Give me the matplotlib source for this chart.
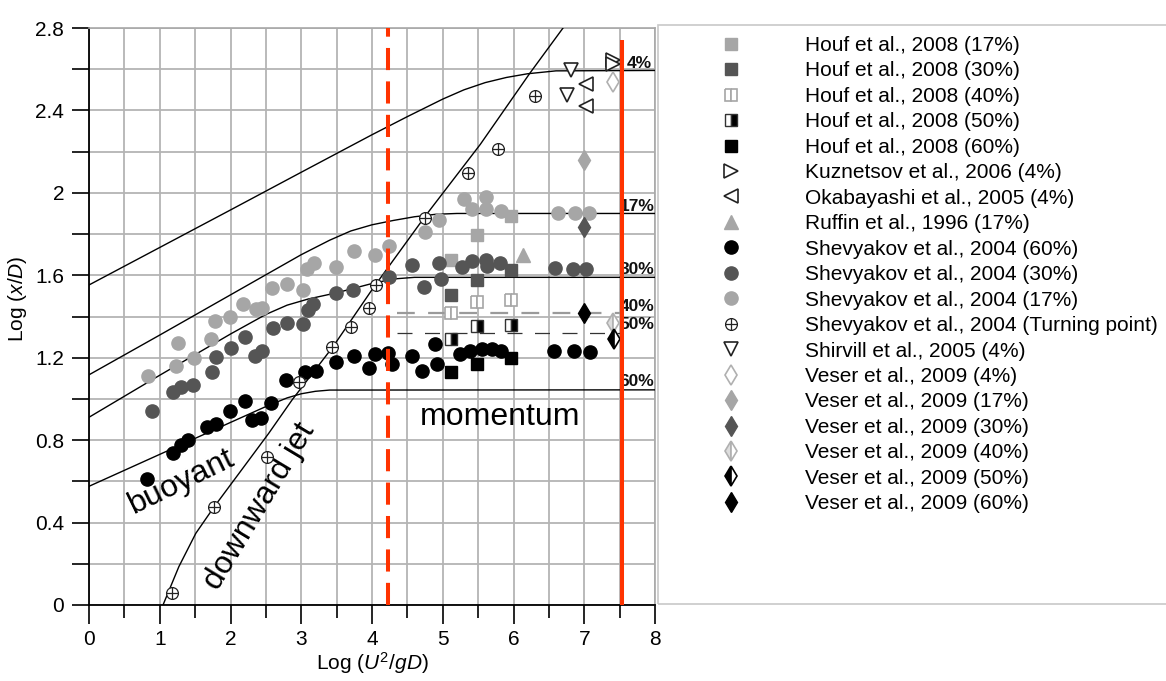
import matplotlib
matplotlib.use('Agg')
import matplotlib.pyplot as plt
from matplotlib.path import Path
from matplotlib.patches import Rectangle
import numpy as np

plt.rcParams['font.family'] = ['Liberation Sans', 'DejaVu Sans']
plt.rcParams['mathtext.fontset'] = 'custom'
plt.rcParams['mathtext.rm'] = 'Liberation Sans'
plt.rcParams['mathtext.it'] = 'Liberation Sans:italic'

# ---------------- data ----------------
houf_x = [5.12, 5.48, 5.97]
houf17_y = [1.675, 1.795, 1.887]
houf30_y = [1.505, 1.575, 1.626]
houf40_y = [1.415, 1.468, 1.478]
houf50_y = [1.29, 1.355, 1.36]
houf60_y = [1.133, 1.17, 1.20]

kuz_x = [7.40, 7.40]
kuz_y = [2.645, 2.625]
oka_x = [7.03, 7.03]
oka_y = [2.53, 2.42]
ruffin_x = [6.13]
ruffin_y = [1.70]

shev60_x = [0.82, 1.19, 1.30, 1.40, 1.67, 1.79, 1.99, 2.21, 2.31, 2.43, 2.57, 2.78, 3.05, 3.21,
            3.49, 3.74, 3.96, 4.04, 4.23, 4.28, 4.56, 4.70, 4.89, 4.92, 5.25, 5.39, 5.55, 5.69,
            5.82, 6.57, 6.85, 7.08]
shev60_y = [0.61, 0.736, 0.777, 0.80, 0.863, 0.879, 0.94, 0.99, 0.90, 0.906, 0.98, 1.09, 1.13, 1.137,
            1.18, 1.21, 1.15, 1.22, 1.225, 1.17, 1.21, 1.137, 1.266, 1.17, 1.22, 1.235, 1.24, 1.24,
            1.235, 1.235, 1.235, 1.227]

shev30_x = [0.89, 1.19, 1.30, 1.47, 1.74, 1.80, 2.00, 2.20, 2.35, 2.44, 2.60, 2.80, 3.02, 3.10,
            3.16, 3.49, 3.73, 4.24, 4.56, 4.73, 4.95, 4.98, 5.27, 5.41, 5.61, 5.62, 5.81, 6.59,
            6.84, 7.03]
shev30_y = [0.94, 1.035, 1.057, 1.07, 1.13, 1.205, 1.246, 1.30, 1.21, 1.235, 1.343, 1.37, 1.364, 1.43,
            1.46, 1.516, 1.53, 1.59, 1.65, 1.545, 1.66, 1.58, 1.64, 1.67, 1.675, 1.645, 1.66, 1.635,
            1.63, 1.63]

shev17_x = [0.84, 1.23, 1.26, 1.48, 1.73, 1.78, 1.99, 2.18, 2.36, 2.45, 2.59, 2.80, 3.02, 3.08,
            3.18, 3.49, 3.74, 4.04, 4.24, 4.75, 4.95, 5.30, 5.41, 5.61, 5.61, 5.83, 6.63, 6.87, 7.07]
shev17_y = [1.11, 1.16, 1.27, 1.20, 1.29, 1.38, 1.40, 1.46, 1.435, 1.44, 1.54, 1.56, 1.53, 1.63,
            1.66, 1.64, 1.72, 1.70, 1.74, 1.81, 1.87, 1.97, 1.92, 1.98, 1.92, 1.91, 1.90, 1.90, 1.90]

turn_x = [1.18, 1.77, 2.52, 2.97, 3.43, 3.70, 3.96, 4.06, 4.75, 5.35, 5.78, 6.30]
turn_y = [0.057, 0.477, 0.717, 1.08, 1.25, 1.35, 1.44, 1.553, 1.88, 2.095, 2.215, 2.47]

shirvill_x = [6.81, 6.75]
shirvill_y = [2.597, 2.476]

veser4_x, veser4_y = [7.41], [2.54]
veser17_x, veser17_y = [7.00], [2.16]
veser30_x, veser30_y = [7.00], [1.836]
veser40_x, veser40_y = [7.41], [1.367]
veser50_x, veser50_y = [7.42], [1.29]
veser60_x, veser60_y = [7.00], [1.419]

# model curves
c4_x = [0, 1, 2, 3, 4, 4.5, 5.0, 5.3, 5.6, 5.9, 6.2, 6.6, 8]
c4_y = [1.553, 1.735, 1.917, 2.10, 2.282, 2.37, 2.455, 2.50, 2.535, 2.56, 2.578, 2.592, 2.594]
c17_x = [0, 1, 2, 3.0, 3.4, 3.7, 4.0, 4.3, 4.6, 4.9, 5.2, 8]
c17_y = [1.117, 1.31, 1.505, 1.70, 1.77, 1.815, 1.845, 1.866, 1.884, 1.896, 1.90, 1.90]
c30_x = [0, 1, 2, 2.5, 2.8, 3.1, 3.5, 4.0, 4.3, 4.6, 8]
c30_y = [0.911, 1.115, 1.315, 1.41, 1.455, 1.485, 1.515, 1.56, 1.582, 1.59, 1.59]
c60_x = [0, 1, 2, 2.5, 2.8, 3.0, 3.2, 3.4, 8]
c60_y = [0.576, 0.731, 0.886, 0.963, 1.005, 1.025, 1.037, 1.043, 1.044]
jet_x = [1.046, 1.27, 1.51, 1.77, 2.19, 2.54, 2.87, 3.45, 4.02, 4.77, 5.53, 6.23, 6.70]
jet_y = [0.0, 0.186, 0.348, 0.477, 0.671, 0.833, 0.995, 1.254, 1.54, 1.895, 2.235, 2.58, 2.80]

dash40_x, dash40_y = [4.35, 7.50], [1.416, 1.416]
dash50_x, dash50_y = [4.35, 7.50], [1.319, 1.319]

curve_labels = ['4%', '17%', '30%', '40%', '50%', '60%']
curve_label_y = [2.63, 1.934, 1.63, 1.45, 1.36, 1.084]

red_dash_x = 4.22
red_solid_x = 7.54
red_solid_top = 2.74

# ---------------- figure ----------------
W, H = 1166, 681
fig = plt.figure(figsize=(W / 100, H / 100), dpi=100)
ax = fig.add_axes([89 / W, 1 - 605 / H, (655 - 89) / W, (605 - 28) / H])
ax.set_xlim(0, 8)
ax.set_ylim(0, 2.8)

ax.set_xticks(np.arange(0, 9, 1))
ax.set_xticks(np.arange(0.5, 8, 1), minor=True)
ax.set_yticks(np.arange(0, 2.81, 0.4))
ax.set_yticks(np.arange(0.2, 2.8, 0.4), minor=True)
ax.set_yticklabels(['0', '0.4', '0.8', '1.2', '1.6', '2', '2.4', '2.8'])
ax.tick_params(axis='both', which='major', labelsize=15, direction='out', width=1.2, color='black')
ax.tick_params(axis='x', which='major', length=14, pad=4)
ax.tick_params(axis='x', which='minor', length=9, width=1.2)
ax.tick_params(axis='y', which='major', length=12, pad=6)
ax.tick_params(axis='y', which='minor', length=12, width=1.2)
ax.grid(True, which='both', color='#b4b4b4', lw=1.3, zorder=0)
ax.set_axisbelow(True)
for s in ['left', 'bottom']:
    ax.spines[s].set_color('black')
    ax.spines[s].set_linewidth(1.3)
for s in ['top', 'right']:
    ax.spines[s].set_color('#a8a8a8')
    ax.spines[s].set_linewidth(1.2)

ax.set_xlabel(r'Log ($U^{2}/gD$)', fontsize=15)
ax.set_ylabel(r'Log ($x/D$)', fontsize=15)
ax.xaxis.set_label_coords(0.5, -0.078)
ax.yaxis.set_label_coords(-0.106, 0.53)

# curves
for cx, cy in [(c4_x, c4_y), (c17_x, c17_y), (c30_x, c30_y), (c60_x, c60_y), (jet_x, jet_y)]:
    ax.plot(cx, cy, color='black', lw=1.0, zorder=3)
ax.plot(dash40_x, dash40_y, color='#9a9a9a', lw=1.6, ls=(0, (8, 6)), zorder=3)
ax.plot(dash50_x, dash50_y, color='#333333', lw=0.9, ls=(0, (12, 10)), zorder=3)

for lab, ly in zip(curve_labels, curve_label_y):
    ax.text(7.50 if lab != '4%' else 7.60, ly, lab, fontsize=12.5, fontweight='bold',
            ha='left', va='center', zorder=4, color='#111111')

# red lines
ax.plot([red_dash_x, red_dash_x], [0, 2.8], color='#ff3300', lw=2.9, ls=(0, (5.5, 2.8)), zorder=6,
        solid_capstyle='butt', dash_capstyle='butt')
ax.plot([red_solid_x, red_solid_x], [0, red_solid_top], color='#ff3300', lw=2.9, zorder=6,
        solid_capstyle='butt')

# markers
lg = '#a6a6a6'
dg = '#555555'
circ = Path.unit_circle()
oplus = Path(np.concatenate([circ.vertices, [[-1, 0], [1, 0], [0, -1], [0, 1]]]),
             np.concatenate([circ.codes, [Path.MOVETO, Path.LINETO, Path.MOVETO, Path.LINETO]]))

series = [
    (houf_x, houf17_y, 'Houf et al., 2008 (17%)', dict(marker='s', ms=8.5, mfc=lg, mec=lg)),
    (houf_x, houf30_y, 'Houf et al., 2008 (30%)', dict(marker='s', ms=8.5, mfc=dg, mec=dg)),
    (houf_x, houf40_y, 'Houf et al., 2008 (40%)', dict(marker='s', ms=8.5, mfc='white', mec=lg,
                                                       fillstyle='left', markerfacecoloralt='white', mew=1.2)),
    (houf_x, houf50_y, 'Houf et al., 2008 (50%)', dict(marker='s', ms=8.5, mfc='white', mec='#333333',
                                                       fillstyle='left', markerfacecoloralt='black', mew=1.0)),
    (houf_x, houf60_y, 'Houf et al., 2008 (60%)', dict(marker='s', ms=8.5, mfc='black', mec='black')),
    (kuz_x, kuz_y, 'Kuznetsov et al., 2006 (4%)', dict(marker='>', ms=10, mfc='white', mec='#222222', mew=1.2)),
    (oka_x, oka_y, 'Okabayashi et al., 2005 (4%)', dict(marker='<', ms=10, mfc='white', mec='#222222', mew=1.2)),
    (ruffin_x, ruffin_y, 'Ruffin et al., 1996 (17%)', dict(marker='^', ms=10, mfc=lg, mec=lg)),
    (shev60_x, shev60_y, 'Shevyakov et al., 2004 (60%)', dict(marker='o', ms=9.5, mfc='black', mec='black')),
    (shev30_x, shev30_y, 'Shevyakov et al., 2004 (30%)', dict(marker='o', ms=9.5, mfc=dg, mec=dg)),
    (shev17_x, shev17_y, 'Shevyakov et al., 2004 (17%)', dict(marker='o', ms=9.5, mfc=lg, mec=lg)),
    (turn_x, turn_y, 'Shevyakov et al., 2004 (Turning point)', dict(marker=oplus, ms=8.5, mfc='white',
                                                                     mec='#222222', mew=0.9)),
    (shirvill_x, shirvill_y, 'Shirvill et al., 2005 (4%)', dict(marker='v', ms=10, mfc='white', mec='#222222', mew=1.2)),
    (veser4_x, veser4_y, 'Veser et al., 2009 (4%)', dict(marker='d', ms=10, mfc='white', mec='#b0b0b0', mew=1.2)),
    (veser17_x, veser17_y, 'Veser et al., 2009 (17%)', dict(marker='d', ms=10, mfc=lg, mec=lg)),
    (veser30_x, veser30_y, 'Veser et al., 2009 (30%)', dict(marker='d', ms=10, mfc=dg, mec=dg)),
    (veser40_x, veser40_y, 'Veser et al., 2009 (40%)', dict(marker='d', ms=10, mfc='#dddddd', mec='#b0b0b0',
                                                          fillstyle='left', markerfacecoloralt='white', mew=1.2)),
    (veser50_x, veser50_y, 'Veser et al., 2009 (50%)', dict(marker='d', ms=10, mfc='black', mec='black',
                                                          fillstyle='left', markerfacecoloralt='white', mew=1.2)),
    (veser60_x, veser60_y, 'Veser et al., 2009 (60%)', dict(marker='d', ms=10, mfc='black', mec='black')),
]

handles = []
for sx, sy, lab, st in series:
    h, = ax.plot(sx, sy, ls='none', zorder=5, label=lab, **st)
    handles.append(h)

# annotations
ax.text(5.81, 0.913, 'momentum', fontsize=23, ha='center', va='center', zorder=4)
ax.text(1.31, 0.60, 'buoyant', fontsize=23, rotation=26, ha='center', va='center',
        rotation_mode='anchor', zorder=4)
ax.text(2.42, 0.48, 'downward jet', fontsize=23, rotation=59, ha='center', va='center',
        rotation_mode='anchor', zorder=4)

# legend box
fig.add_artist(Rectangle((658 / W, 1 - 604 / H), 1.0, (604 - 25) / H, transform=fig.transFigure,
                         fill=False, edgecolor='#c8c8c8', lw=1.2))
fig.legend(handles=handles, loc='upper left', bbox_to_anchor=(710 / W, 1 - 36 / H),
           bbox_transform=fig.transFigure, frameon=False, fontsize=15, numpoints=1,
           handlelength=2.0, handletextpad=2.55, labelspacing=0.31, borderpad=0, borderaxespad=0)

fig.savefig('out.png', dpi=100)
